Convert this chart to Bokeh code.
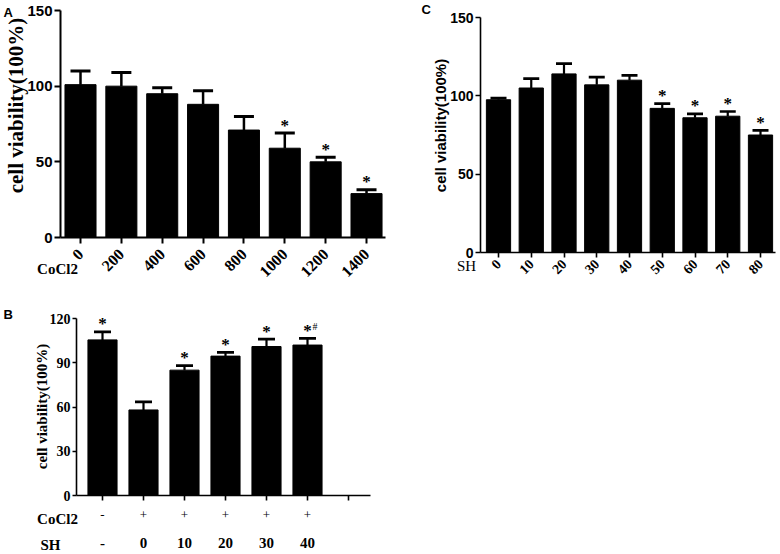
import math
from bokeh.plotting import figure
from bokeh.models import (ColumnDataSource, Whisker, TeeHead, FixedTicker, Range1d,
                          LinearAxis)
from bokeh.layouts import row, column
from bokeh.embed import file_html
from bokeh.resources import INLINE
from bokeh.core.properties import value

# ---------------- data ----------------
# Panel A : CoCl2 concentration
a_labels = ["0", "200", "400", "600", "800", "1000", "1200", "1400"]
a_values = [101, 100, 95, 88, 71, 59, 50, 29]
a_upper = [110, 109, 99, 97, 80, 69, 53, 31.5]
a_marks = ["", "", "", "", "", "*", "*", "*"]

# Panel C : SH concentration
c_labels = ["0", "10", "20", "30", "40", "50", "60", "70", "80"]
c_values = [97.5, 105, 114, 107, 110, 92, 86, 87, 75]
c_upper = [98.5, 111, 120.5, 112, 113, 95, 88.5, 90, 78]
c_marks = ["", "", "", "", "", "*", "*", "*", "*"]

# Panel B : CoCl2 + SH
b_cocl2 = ["-", "+", "+", "+", "+", "+"]
b_sh = ["-", "0", "10", "20", "30", "40"]
b_values = [105.5, 58, 85, 94.5, 101, 102]
b_upper = [111, 63.5, 88, 97, 106, 106.5]
b_marks = ["*", "", "*", "*", "*", "*"]
b_hash = ["", "", "", "", "", "#"]

a_yticks = [0, 50, 100, 150]
c_yticks = [0, 50, 100, 150]
b_yticks = [0, 30, 60, 90, 120]

SERIF = "Liberation Serif"
SANS = "Liberation Sans"
YLABEL = "cell viability(100%)"


class Panel:
    """Figure whose whole area is the plotting frame; px -> data helpers."""

    def __init__(self, W, H, x0, sx, y0, sy):
        self.x0, self.sx, self.y0, self.sy = x0, sx, y0, sy
        self.p = figure(width=W, height=H,
                        x_range=Range1d(-x0 / sx, (W - x0) / sx),
                        y_range=Range1d(-(H - y0) / sy, y0 / sy),
                        x_axis_type=None, y_axis_type=None,
                        output_backend="svg", toolbar_location=None, min_border=0)
        self.p.outline_line_color = None
        self.p.grid.visible = False
        self.p.background_fill_color = "white"
        self.p.border_fill_color = "white"

    def X(self, px):
        return (px - self.x0) / self.sx

    def Y(self, py):
        return (self.y0 - py) / self.sy

    def text(self, px, py, txt, font, size, style="bold", align="center",
             baseline="middle", angle=0.0):
        self.p.text(x=[self.X(px)], y=[self.Y(py)], text=[txt], angle=angle,
                    text_font=value(font), text_font_size=f"{size}px",
                    text_font_style=style, text_align=align,
                    text_baseline=baseline, text_color="black")


def bars(pan, xs, vals, upper, width, cap, lw):
    p = pan.p
    src = ColumnDataSource(dict(x=xs, v=vals, u=upper))
    p.add_layout(Whisker(base="x", lower="v", upper="u", source=src,
                         line_color="black", line_width=lw,
                         upper_head=TeeHead(size=cap, line_color="black", line_width=lw + 0.5),
                         lower_head=None, level="underlay"))
    p.vbar(x="x", top="v", bottom=0, width=width, source=src,
           fill_color="black", line_color="black")


def marks(pan, xs, upper, mk, size=17, dx=0, dy=-8, style="bold"):
    sel = [i for i, m in enumerate(mk) if m]
    pan.p.text(x=[xs[i] for i in sel], y=[upper[i] for i in sel], text=[mk[i] for i in sel],
               text_font=value(SERIF), text_font_style=style, text_font_size=f"{size}px",
               text_align="center" if dx == 0 else "left", text_baseline="alphabetic",
               text_color="black", x_offset=dx, y_offset=dy)


def axes(pan, ypx, x_lo_px, x_hi_px, ytop, yticks, xticks, lw, tick_out,
         ytick_font, ytick_size):
    ya = LinearAxis(fixed_location=pan.X(ypx), bounds=(0, ytop),
                    ticker=FixedTicker(ticks=yticks))
    xa = LinearAxis(fixed_location=0, bounds=(pan.X(x_lo_px), pan.X(x_hi_px)),
                    ticker=FixedTicker(ticks=xticks))
    for ax in (xa, ya):
        ax.axis_line_color = "black"
        ax.axis_line_width = lw
        ax.major_tick_line_color = "black"
        ax.major_tick_line_width = lw
        ax.major_tick_in = 0
        ax.major_tick_out = tick_out
        ax.minor_tick_line_color = None
        ax.major_label_text_color = "black"
    ya.major_label_text_font = ytick_font
    ya.major_label_text_font_style = "bold"
    ya.major_label_text_font_size = f"{ytick_size}px"
    ya.major_label_standoff = 2
    pan.p.add_layout(ya, "left")
    pan.p.add_layout(xa, "below")
    return xa, ya


# ---------------- Panel A (page origin 0,0) ----------------
A = Panel(420, 296, 80, 40.86, 237, 227 / 150)
xa_pos = list(range(len(a_labels)))
bars(A, xa_pos, a_values, a_upper, 0.76, 20, 2.5)
marks(A, xa_pos, a_upper, a_marks)
axA, ayA = axes(A, 60, 60, 385, 150, a_yticks, xa_pos, 2, 6, SANS, 15)
axA.major_label_overrides = {i: s for i, s in enumerate(a_labels)}
axA.major_label_orientation = math.pi / 4
axA.major_label_text_font = SERIF
axA.major_label_text_font_style = "bold"
axA.major_label_text_font_size = "16px"
axA.major_label_standoff = 8
A.text(15, 105, YLABEL, SERIF, 21, angle=math.pi / 2)
A.text(3, 12, "A", SANS, 13, align="left")
A.text(57, 268, "CoCl2", SERIF, 15)

# ---------------- Panel B (page origin 0,296) ----------------
B = Panel(420, 257, 61, 41.0, 199, 177 / 120)
xb_pos = [i + 1 for i in range(len(b_values))]
bars(B, xb_pos, b_values, b_upper, 0.71, 17, 2.2)
marks(B, xb_pos, b_upper, b_marks)
marks(B, xb_pos, b_upper, b_hash, size=10, dx=5, dy=-12, style="normal")
axB, ayB = axes(B, 76, 76, 370, 120, b_yticks, xb_pos + [len(xb_pos) + 1], 1.6, 5,
                SERIF, 14)
ayB.major_tick_out = 4
# first row under the axis: CoCl2 +/-
axB.major_label_overrides = {x: s for x, s in zip(xb_pos, b_cocl2)}
axB.major_label_overrides[len(xb_pos) + 1] = " "
axB.major_label_text_font = SERIF
axB.major_label_text_font_size = "13px"
axB.major_label_standoff = 6
# second row: SH concentrations
shB = LinearAxis(fixed_location=0, ticker=FixedTicker(ticks=xb_pos),
                 major_label_overrides={x: s for x, s in zip(xb_pos, b_sh)},
                 axis_line_color=None, major_tick_line_color=None,
                 minor_tick_line_color=None, major_tick_out=0, major_tick_in=0,
                 major_label_standoff=42, major_label_text_font=SERIF,
                 major_label_text_font_style="bold", major_label_text_font_size="15px",
                 major_label_text_color="black")
B.p.add_layout(shB, "below")
B.text(41, 110, YLABEL, SERIF, 15, angle=math.pi / 2)
B.text(3, 18, "B", SANS, 13, align="left")
B.text(57, 222, "CoCl2", SERIF, 15)
B.text(50, 248, "SH", SERIF, 15)

# ---------------- Panel C (page origin 420,0) ----------------
C = Panel(358, 296, 78, 32.75, 252, 235 / 150)
xc_pos = list(range(len(c_labels)))
bars(C, xc_pos, c_values, c_upper, 0.74, 16, 2.2)
marks(C, xc_pos, c_upper, c_marks)
axC, ayC = axes(C, 60, 60, 355, 150, c_yticks, xc_pos, 1.6, 5, SANS, 14)
axC.major_label_overrides = {i: s for i, s in enumerate(c_labels)}
axC.major_label_orientation = math.pi / 4
axC.major_label_text_font = SERIF
axC.major_label_text_font_style = "bold"
axC.major_label_text_font_size = "14px"
axC.major_label_standoff = 4
C.text(20, 125, YLABEL, SANS, 15, angle=math.pi / 2)
C.text(1, 9, "C", SANS, 13, align="left")
C.text(46, 265, "SH", SERIF, 15, style="normal")

layout = row(column(A.p, B.p), C.p)
open("out.html", "w").write(file_html(layout, INLINE))
